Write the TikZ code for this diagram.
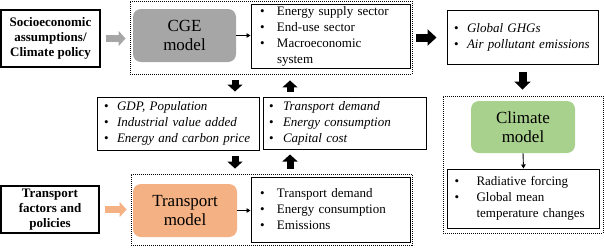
\documentclass[tikz,border=0pt]{standalone}
\usepackage{fontspec}
\setmainfont{Liberation Serif}
\usetikzlibrary{arrows.meta,calc}
\definecolor{cgegray}{HTML}{A6A6A6}
\definecolor{trorange}{HTML}{F4B183}
\definecolor{climgreen}{HTML}{A9D18E}
\newcommand{\bitm}[2]{\makebox[#1][l]{\textbullet}#2}
\begin{document}
\begin{tikzpicture}[x=1pt,y=-1pt,
  solidbox/.style={draw, line width=1pt, inner ysep=0pt, align=left,
    font=\fontsize{13}{16}\selectfont},
  inbox/.style={draw, line width=1.1pt, inner sep=0pt, align=center,
    font=\fontsize{13}{15}\selectfont\bfseries},
  dotbox/.style={draw, line width=0.9pt, dash pattern=on 1pt off 1pt, inner sep=0pt},
  modelbox/.style={rounded corners=8pt, inner sep=0pt, align=center,
    font=\fontsize{17}{19}\selectfont},
  blockarr/.style={line width=7pt, -{Triangle[length=7pt,width=15pt]}},
  thinarr/.style={line width=0.9pt, -{Triangle[length=4pt,width=4.5pt]}}]
\useasboundingbox (0,0) rectangle (604,247);

% dotted group boxes
\node[dotbox, minimum width=282pt, minimum height=73pt] (cgebox) at (271,37.5) {};
\node[dotbox, minimum width=160pt, minimum height=137pt] (climbox) at (523,164.5) {};
\node[dotbox, minimum width=281pt, minimum height=71pt] (trbox) at (271.5,209.5) {};

% input boxes
\node[inbox, minimum width=99pt, minimum height=57pt] (socio) at (50.5,38.5)
  {Socioeconomic\\assumptions/\\Climate policy};
\node[inbox, minimum width=98pt, minimum height=47pt] (trfac) at (50,209.5)
  {Transport\\factors and\\policies};

% model boxes
\node[modelbox, fill=cgegray, minimum width=103pt, minimum height=53pt] (cge) at (184.5,35.5)
  {CGE\\model};
\node[modelbox, fill=climgreen, minimum width=104pt, minimum height=52pt] (clim) at (523,127)
  {Climate\\model};
\node[modelbox, fill=trorange, minimum width=104pt, minimum height=53pt] (trm) at (185,210.5)
  {Transport\\model};

% bullet boxes
\node[solidbox, minimum width=159pt, minimum height=64pt, inner xsep=9pt, text width=141pt]
  (cgeout) at (330.5,36)
  {\bitm{17pt}{Energy supply sector}\\
   \bitm{17pt}{End-use sector}\\
   \bitm{17pt}{Macroeconomic}\\
   \hspace*{17pt}system};
\node[solidbox, minimum width=151pt, minimum height=54pt, inner xsep=7pt, text width=137pt]
  (ghg) at (522.5,37)
  {\bitm{13pt}{\textit{Global GHGs}}\\
   \bitm{13pt}{\textit{Air pollutant emissions}}};
\node[solidbox, minimum width=162pt, minimum height=53pt, inner xsep=7pt, text width=148pt]
  (gdp) at (178,123.5)
  {\bitm{13pt}{\textit{GDP, Population}}\\
   \bitm{13pt}{\textit{Industrial value added}}\\
   \bitm{13pt}{\textit{Energy and carbon price}}};
\node[solidbox, minimum width=163pt, minimum height=52pt, inner xsep=6pt, text width=151pt]
  (tdem) at (344.5,123)
  {\bitm{14pt}{\textit{Transport demand}}\\
   \bitm{14pt}{\textit{Energy consumption}}\\
   \bitm{14pt}{\textit{Capital cost}}};
\node[solidbox, minimum width=159pt, minimum height=65pt, inner xsep=9pt, text width=141pt]
  (trout) at (330.5,209.5)
  {\bitm{17pt}{Transport demand}\\
   \bitm{17pt}{Energy consumption}\\
   \bitm{17pt}{Emissions}};
\node[solidbox, minimum width=152pt, minimum height=59pt, inner xsep=7pt, text width=138pt]
  (rad) at (523.5,198.5)
  {\bitm{22pt}{Radiative forcing}\\
   \bitm{22pt}{Global mean}\\
   \hspace*{22pt}temperature changes};

% x positions of vertical exchange arrows
\coordinate (xl) at (235,0);
\coordinate (xr) at (290,0);

% thin arrows
\draw[thinarr] (cge.east) -- (cgeout.west |- cge.east);
\draw[thinarr] (trm.east) -- (trout.west |- trm.east);
\draw[thinarr] (clim.south) -- (rad.north);

% block arrows
\draw[blockarr, draw=cgegray] ([xshift=5pt]socio.east) -- ([xshift=-4pt]cgebox.west |- socio.east);
\draw[blockarr, draw=trorange] ([xshift=5pt]trfac.east) -- ([xshift=-4pt]trbox.west |- trfac.east);
\draw[blockarr, line width=8pt, -{Triangle[length=9pt,width=16pt]}]
  ([xshift=4pt]cgebox.east) -- ([xshift=-10pt]ghg.west |- cgebox.east);
\draw[blockarr, line width=8pt, -{Triangle[length=8pt,width=16pt]}]
  ([yshift=-7pt]ghg.south) -- ([yshift=6pt]climbox.north -| ghg.south);
\draw[blockarr] ([yshift=-6pt]cgebox.south -| xl) -- ([yshift=5pt]gdp.north -| xl);
\draw[blockarr] ([yshift=5pt]tdem.north -| xr) -- ([yshift=-6pt]cgebox.south -| xr);
\draw[blockarr] ([yshift=-5pt]gdp.south -| xl) -- ([yshift=5pt]trbox.north -| xl);
\draw[blockarr] ([yshift=5pt]trbox.north -| xr) -- ([yshift=-5pt]tdem.south -| xr);
\end{tikzpicture}
\end{document}
